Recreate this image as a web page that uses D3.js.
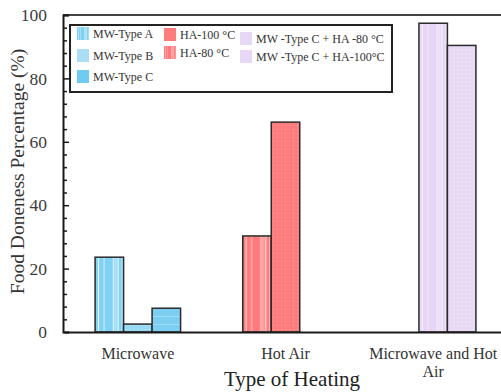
<!DOCTYPE html>
<html>
<head>
<meta charset="utf-8">
<script src="https://cdn.jsdelivr.net/npm/d3@7"></script>
<style>
  body { margin: 0; background: #fff; }
  svg { display: block; font-family: "Liberation Serif", "Times New Roman", Times, serif; }
</style>
</head>
<body>
<div id="chart"></div>
<script>
// categories on the x axis
const categories = ['Microwave', 'Hot Air', 'Microwave and Hot Air'];

// one entry per bar: series name, category, slot inside the group, value (%)
const seriesNames = ['MW-Type A', 'MW-Type B', 'MW-Type C', 'HA-80 °C', 'HA-100 °C',
  'MW -Type C + HA -80 °C', 'MW -Type C + HA-100°C'];
const seriesCategory = ['Microwave', 'Microwave', 'Microwave', 'Hot Air', 'Hot Air',
  'Microwave and Hot Air', 'Microwave and Hot Air'];
const seriesSlot = ['0', '1', '2', '0', '1', '1', '2'];
const seriesValues = [23.6, 2.5, 7.5, 30.3, 66.2, 97.4, 90.4];

// legend entries, in the order they appear
const legendItems = ['MW-Type A', 'MW-Type B', 'MW-Type C', 'HA-100 °C', 'HA-80 °C',
  'MW -Type C + HA -80 °C', 'MW -Type C + HA-100°C'];

const yTicks = [0, 20, 40, 60, 80, 100];

const width = 501;
const height = 392;
const margin = { top: 15, right: -6, bottom: 60, left: 63 };
const serif = '"Liberation Serif", "Times New Roman", Times, serif';

const fills = {
  'MW-Type A': 'url(#stripeBlue)',
  'MW-Type B': 'url(#dotBlue)',
  'MW-Type C': 'url(#lineBlue)',
  'HA-80 °C': 'url(#stripeRed)',
  'HA-100 °C': 'url(#dotRed)',
  'MW -Type C + HA -80 °C': 'url(#stripeLilac)',
  'MW -Type C + HA-100°C': 'url(#dotLilac)'
};
const legendFills = {
  'MW-Type A': 'url(#stripeBlue)',
  'MW-Type B': '#a9def4',
  'MW-Type C': '#6fcbf1',
  'HA-100 °C': '#ff7c7c',
  'HA-80 °C': 'url(#stripeRed)',
  'MW -Type C + HA -80 °C': '#e7d9f5',
  'MW -Type C + HA-100°C': '#e7d9f5'
};

const svg = d3.select('#chart').append('svg')
  .attr('width', width)
  .attr('height', height);

// patterns for the bar fills
const defs = svg.append('defs');

function stripePattern(id, base, line) {
  const p = defs.append('pattern')
    .attr('id', id)
    .attr('patternUnits', 'objectBoundingBox')
    .attr('patternContentUnits', 'objectBoundingBox')
    .attr('width', 1).attr('height', 1);
  p.append('rect').attr('width', 1).attr('height', 1).attr('fill', base);
  [[0.1, 0.04], [0.3, 0.03], [0.62, 0.04], [0.7, 0.03], [0.78, 0.05], [0.93, 0.03]]
    .forEach(([x, w]) => p.append('rect')
      .attr('x', x).attr('width', w).attr('height', 1).attr('fill', line));
}
function dotPattern(id, base, dot) {
  const p = defs.append('pattern')
    .attr('id', id)
    .attr('patternUnits', 'userSpaceOnUse')
    .attr('width', 4).attr('height', 4);
  p.append('rect').attr('width', 4).attr('height', 4).attr('fill', base);
  p.append('rect').attr('x', 1).attr('y', 1).attr('width', 1).attr('height', 1).attr('fill', dot);
}
function linePattern(id, base, line) {
  const p = defs.append('pattern')
    .attr('id', id)
    .attr('patternUnits', 'userSpaceOnUse')
    .attr('width', 6).attr('height', 8);
  p.append('rect').attr('width', 6).attr('height', 8).attr('fill', base);
  p.append('rect').attr('y', 4).attr('width', 6).attr('height', 1).attr('fill', line);
}

stripePattern('stripeBlue', '#7fd2f4', '#e6f7fd');
dotPattern('dotBlue', '#98d9f3', '#c6ecfa');
linePattern('lineBlue', '#7ccff2', '#a4def6');
stripePattern('stripeRed', '#ff7b7b', '#ffd2d2');
dotPattern('dotRed', '#ff7c7c', '#ff9f9f');
stripePattern('stripeLilac', '#e6d5f4', '#f6effc');
dotPattern('dotLilac', '#e8d9f5', '#f1e8f9');

const x0 = d3.scaleBand()
  .domain(categories)
  .range([margin.left + 1, width - margin.right])
  .padding(0);

const slotWidth = 28.5;
const x1 = d3.scaleBand()
  .domain(['0', '1', '2'])
  .range([-1.5 * slotWidth, 1.5 * slotWidth]);

const y = d3.scaleLinear()
  .domain([0, 100])
  .range([332, margin.top]);

const bars = seriesNames.map((name, i) => ({
  name,
  category: seriesCategory[i],
  slot: seriesSlot[i],
  value: seriesValues[i]
}));

// bars
svg.append('g')
  .selectAll('rect')
  .data(bars)
  .enter()
  .append('rect')
  .attr('x', d => x0(d.category) + x0.bandwidth() / 2 + x1(d.slot))
  .attr('y', d => y(d.value))
  .attr('width', x1.bandwidth())
  .attr('height', d => y(0) - y(d.value))
  .attr('fill', d => fills[d.name])
  .attr('stroke', '#2b2b2b')
  .attr('stroke-width', 1.5);

// frame: top line
svg.append('line')
  .attr('x1', margin.left).attr('x2', width)
  .attr('y1', y(100)).attr('y2', y(100))
  .attr('stroke', '#444').attr('stroke-width', 2);

// y axis with inward ticks
const yAxis = svg.append('g')
  .attr('transform', `translate(${margin.left},0)`)
  .call(d3.axisLeft(y).tickValues(yTicks).tickSize(-6).tickPadding(16));
yAxis.select('.domain').attr('stroke', '#1a1a1a').attr('stroke-width', 2);
yAxis.selectAll('.tick line').attr('stroke', '#1a1a1a').attr('stroke-width', 1.5);
yAxis.selectAll('.tick text')
  .attr('font-family', serif)
  .attr('font-size', 17.5)
  .attr('fill', '#3a3a3a');

// minor ticks every 4 units
svg.append('g')
  .attr('transform', `translate(${margin.left},0)`)
  .call(d3.axisLeft(y).tickValues(d3.range(0, 101, 4).filter(v => v % 20 !== 0)).tickSize(-4).tickFormat(''))
  .call(g => g.select('.domain').remove())
  .selectAll('.tick line').attr('stroke', '#1a1a1a').attr('stroke-width', 1.5);

// x axis
const xAxis = svg.append('g')
  .attr('transform', `translate(0,${y(0)})`)
  .call(d3.axisBottom(x0).tickSize(0).tickPadding(16));
xAxis.select('.domain').attr('stroke', '#1a1a1a').attr('stroke-width', 2);
xAxis.selectAll('.tick text')
  .attr('font-family', serif)
  .attr('font-size', 16)
  .attr('fill', '#333')
  .each(function (d) {
    if (d === 'Microwave and Hot Air') {
      const t = d3.select(this).text(null);
      t.append('tspan').attr('x', 0).attr('dy', '0.71em').text('Microwave and Hot');
      t.append('tspan').attr('x', 0).attr('dy', '1.1em').text('Air');
      t.attr('dy', null);
    }
  });

// axis titles
svg.append('text')
  .attr('transform', `translate(24,${(y(0) + y(100)) / 2 - 2}) rotate(-90)`)
  .attr('text-anchor', 'middle')
  .attr('font-size', 19.5)
  .attr('fill', '#333')
  .text('Food Doneness Percentage (%)');

svg.append('text')
  .attr('x', 292)
  .attr('y', 386)
  .attr('text-anchor', 'middle')
  .attr('font-size', 21)
  .attr('fill', '#222')
  .text('Type of Heating');

// legend
const legend = svg.append('g');
legend.append('rect')
  .attr('x', 70).attr('y', 25)
  .attr('width', 322).attr('height', 67)
  .attr('fill', '#fff')
  .attr('stroke', '#222').attr('stroke-width', 2);

const legendCol = [0, 0, 0, 1, 1, 2, 2];
const legendRow = [0, 1, 2, 0, 1, 0, 1];
const colX = [77, 164, 240];
const rowY = [[34, 56, 77], [35, 53], [39, 57]];

legendItems.forEach((name, i) => {
  const cx = colX[legendCol[i]];
  const cy = rowY[legendCol[i]][legendRow[i]];
  legend.append('rect')
    .attr('x', cx).attr('y', cy - 7)
    .attr('width', 12).attr('height', 13)
    .attr('fill', legendFills[name]);
  legend.append('text')
    .attr('x', cx + 16).attr('y', cy)
    .attr('dy', '0.32em')
    .attr('font-size', 12)
    .attr('fill', '#333')
    .text(name);
});
</script>
</body>
</html>
